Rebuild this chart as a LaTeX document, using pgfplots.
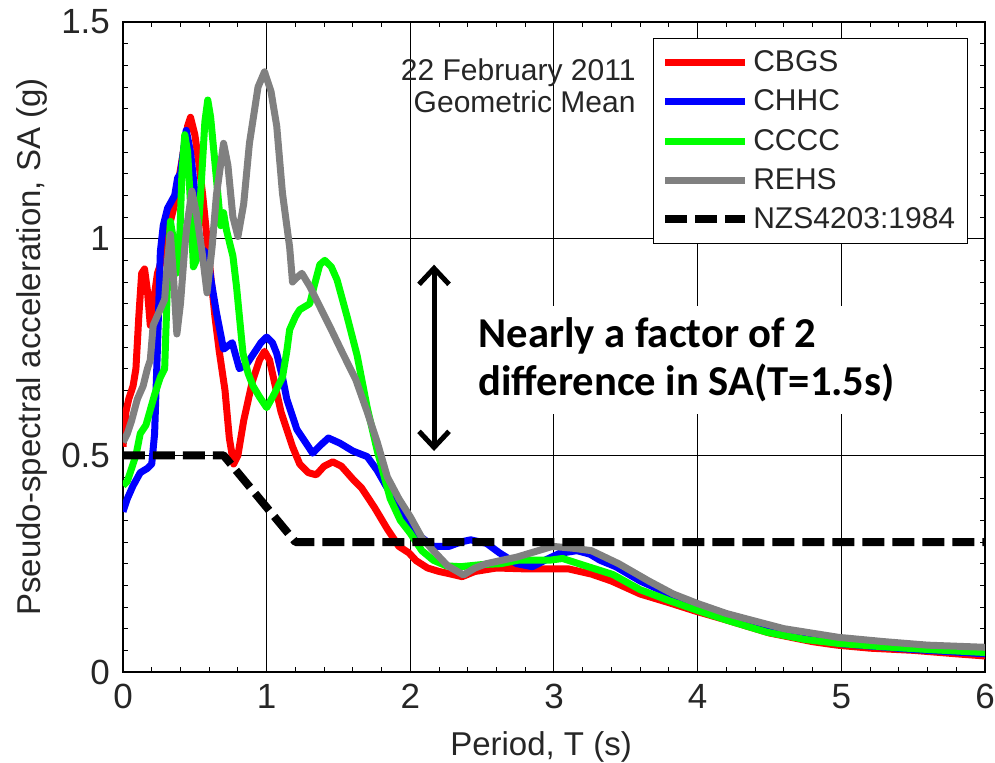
\documentclass[border=0pt]{standalone}
\usepackage{fontspec}
\setmainfont{Liberation Sans}
\newfontfamily\carlito{Carlito}
\usepackage{pgfplots}
\pgfplotsset{compat=1.18}
\usetikzlibrary{arrows.meta}
\definecolor{cred}{RGB}{255,0,0}
\definecolor{cblue}{RGB}{0,0,255}
\definecolor{cgreen}{RGB}{0,255,0}
\definecolor{cgray}{RGB}{128,128,128}
\begin{document}
\begin{tikzpicture}
\begin{axis}[
  scale only axis,
  width=431pt, height=325pt,
  xmin=0, xmax=6, ymin=0, ymax=1.5,
  xtick={0,1,2,3,4,5,6},
  ytick={0,0.5,1,1.5},
  yticklabels={0,0.5,1,1.5},
  minor x tick num=4,
  minor y tick num=9,
  tick align=inside,
  major tick length=4pt,
  minor tick length=2.5pt,
  xtick pos=both, ytick pos=both,
  grid=major,
  major grid style={black, line width=0.5pt},
  axis line style={black, line width=0.8pt},
  every tick/.style={black, line width=0.5pt},
  /pgf/number format/assume math mode=true,
  tick label style={font=\fontsize{17.5}{20}\selectfont, text=black!85},
  xlabel={Period, T (s)},
  ylabel={Pseudo-spectral acceleration, SA (g)},
  xticklabel style={yshift=-2.5pt},
  yticklabel style={xshift=-3pt},
  xlabel style={at={(axis description cs:0.485,0)}, anchor=base, yshift=-41.5pt, font=\fontsize{16.5}{19}\selectfont, text=black!85},
  ylabel style={at={(axis description cs:-0.079,0.5)}, anchor=south, rotate=0, font=\fontsize{16.5}{19}\selectfont, text=black!85},
  legend style={at={(rel axis cs:0.98,0.975)}, anchor=north east, draw=black, line width=0.6pt,
    font=\fontsize{15}{17}\selectfont, nodes={font=\fontsize{15}{17}\selectfont, text=black!85},
    row sep=3.6pt, inner xsep=4pt, inner ysep=4pt},
  legend cell align=left,
  legend image code/.code={\draw[#1] (0pt,0pt) -- (40pt,0pt);},
  every axis plot/.append style={line join=round},
]
\coordinate (bl) at (rel axis cs:0,0);
\coordinate (tr) at (rel axis cs:1,1);
\addplot[cred, line width=3.5pt] coordinates {
(0,0.52) (0.02,0.60) (0.04,0.63) (0.07,0.66) (0.09,0.70) (0.11,0.82) (0.13,0.92) (0.15,0.93) (0.17,0.88) (0.19,0.80) (0.21,0.85) (0.24,0.92) (0.27,0.95) (0.3,1.0) (0.36,1.08) (0.41,1.18) (0.45,1.26) (0.47,1.28) (0.50,1.24) (0.53,1.17) (0.555,1.1) (0.6,0.95) (0.64,0.82) (0.67,0.74) (0.71,0.65) (0.74,0.54) (0.77,0.48) (0.80,0.50) (0.84,0.58) (0.9,0.67) (0.95,0.72) (0.985,0.74) (1.02,0.72) (1.06,0.66) (1.10,0.60) (1.14,0.56) (1.18,0.52) (1.23,0.48) (1.29,0.46) (1.345,0.455) (1.40,0.475) (1.46,0.485) (1.52,0.475) (1.60,0.445) (1.66,0.425) (1.75,0.38) (1.84,0.33) (1.92,0.29) (1.99,0.275) (2.04,0.257) (2.12,0.24) (2.2,0.232) (2.27,0.227) (2.36,0.22) (2.45,0.232) (2.6,0.24) (2.8,0.238) (2.96,0.238) (3.1,0.238) (3.26,0.226) (3.4,0.21) (3.6,0.18) (3.8,0.16) (3.98,0.141) (4.2,0.12) (4.5,0.09) (4.8,0.07) (4.97,0.062) (5.2,0.055) (5.5,0.05) (5.8,0.042) (6.0,0.037)
};
\addlegendentry{CBGS}
\addplot[cblue, line width=3.5pt] coordinates {
(0,0.37) (0.03,0.40) (0.07,0.43) (0.12,0.46) (0.17,0.47) (0.20,0.48) (0.22,0.55) (0.24,0.75) (0.26,0.97) (0.28,1.03) (0.31,1.07) (0.36,1.10) (0.38,1.14) (0.40,1.15) (0.42,1.2) (0.44,1.25) (0.47,1.2) (0.49,1.14) (0.52,1.04) (0.535,0.98) (0.57,0.97) (0.59,0.96) (0.61,0.91) (0.65,0.83) (0.70,0.745) (0.76,0.76) (0.81,0.70) (0.86,0.71) (0.90,0.73) (0.96,0.76) (1.0,0.773) (1.04,0.76) (1.07,0.735) (1.11,0.68) (1.14,0.63) (1.21,0.56) (1.27,0.53) (1.32,0.505) (1.38,0.525) (1.43,0.54) (1.51,0.528) (1.60,0.51) (1.70,0.497) (1.77,0.465) (1.83,0.43) (1.92,0.38) (2.0,0.335) (2.08,0.31) (2.16,0.29) (2.27,0.29) (2.35,0.30) (2.42,0.305) (2.53,0.297) (2.62,0.275) (2.74,0.25) (2.85,0.243) (2.95,0.26) (3.04,0.274) (3.16,0.28) (3.25,0.272) (3.32,0.258) (3.43,0.243) (3.6,0.21) (3.8,0.18) (4.0,0.148) (4.2,0.125) (4.5,0.095) (5.0,0.065) (5.5,0.052) (6.0,0.042)
};
\addlegendentry{CHHC}
\addplot[cgreen, line width=3.5pt] coordinates {
(0,0.43) (0.03,0.44) (0.06,0.47) (0.09,0.50) (0.12,0.55) (0.16,0.57) (0.22,0.64) (0.26,0.68) (0.29,0.70) (0.30,0.80) (0.31,0.9) (0.33,1.04) (0.35,1.0) (0.37,0.92) (0.39,0.95) (0.41,1.15) (0.43,1.24) (0.45,1.2) (0.47,1.08) (0.49,0.935) (0.51,0.95) (0.54,1.1) (0.57,1.27) (0.59,1.32) (0.61,1.28) (0.65,1.14) (0.68,1.03) (0.70,1.06) (0.72,1.02) (0.765,0.96) (0.79,0.89) (0.835,0.736) (0.87,0.69) (0.905,0.66) (0.95,0.635) (1.0,0.61) (1.05,0.64) (1.11,0.68) (1.14,0.74) (1.16,0.79) (1.20,0.82) (1.23,0.836) (1.30,0.85) (1.33,0.89) (1.37,0.94) (1.405,0.95) (1.45,0.935) (1.49,0.905) (1.56,0.82) (1.63,0.73) (1.70,0.61) (1.77,0.51) (1.86,0.40) (1.93,0.35) (2.0,0.32) (2.08,0.28) (2.16,0.258) (2.25,0.245) (2.35,0.243) (2.5,0.248) (2.63,0.25) (2.75,0.258) (2.97,0.258) (3.06,0.262) (3.2,0.247) (3.41,0.225) (3.6,0.19) (3.8,0.165) (4.0,0.142) (4.2,0.12) (4.48,0.092) (4.75,0.075) (4.98,0.066) (5.3,0.058) (5.6,0.052) (6.0,0.045)
};
\addlegendentry{CCCC}
\addplot[cgray, line width=3.5pt] coordinates {
(0,0.53) (0.03,0.55) (0.06,0.58) (0.10,0.63) (0.14,0.66) (0.17,0.70) (0.19,0.72) (0.21,0.80) (0.25,0.83) (0.29,0.86) (0.31,0.95) (0.33,1.01) (0.35,0.92) (0.375,0.78) (0.40,0.85) (0.43,0.98) (0.445,1.03) (0.48,1.11) (0.51,1.06) (0.55,0.97) (0.585,0.875) (0.62,0.98) (0.65,1.1) (0.70,1.22) (0.73,1.17) (0.765,1.05) (0.80,1.005) (0.84,1.08) (0.88,1.22) (0.94,1.35) (0.985,1.385) (1.03,1.34) (1.07,1.26) (1.11,1.105) (1.16,0.98) (1.18,0.90) (1.21,0.91) (1.245,0.92) (1.30,0.89) (1.39,0.83) (1.45,0.79) (1.53,0.735) (1.62,0.675) (1.70,0.60) (1.77,0.53) (1.84,0.45) (1.92,0.40) (2.0,0.358) (2.08,0.31) (2.16,0.28) (2.26,0.245) (2.37,0.224) (2.45,0.24) (2.53,0.25) (2.64,0.258) (2.74,0.265) (2.87,0.278) (2.99,0.29) (3.15,0.285) (3.26,0.28) (3.45,0.25) (3.66,0.21) (3.83,0.18) (4.0,0.158) (4.2,0.135) (4.37,0.12) (4.6,0.1) (4.98,0.08) (5.3,0.07) (5.6,0.062) (6.0,0.057)
};
\addlegendentry{REHS}
\addplot[black, line width=4pt, dash pattern=on 11pt off 4pt] coordinates {
(0,0.5) (0.7,0.5) (1.2,0.3) (6,0.3)
};
\addlegendentry{NZS4203:1984}
\node[anchor=north east, align=right, font=\fontsize{15}{16}\selectfont, text=black!85, inner sep=0pt] at (axis cs:3.57,1.415) {22 February 2011\\Geometric Mean};
\node[anchor=west, align=left, font=\carlito\bfseries\fontsize{21.3}{24}\selectfont, inner xsep=3pt, inner ysep=6pt, fill=white] at (axis cs:2.43,0.72) {Nearly a factor of 2\\difference in SA(T=1.5s)};
\draw[line width=2.5pt, {Straight Barb[length=8pt,width=15pt]}-{Straight Barb[length=8pt,width=15pt]}] (axis cs:2.165,0.94) -- (axis cs:2.165,0.51);
\end{axis}
\pgfresetboundingbox
\path[use as bounding box] ([xshift=-61.5pt,yshift=-45pt]bl) rectangle ([xshift=5pt,yshift=11pt]tr);
\end{tikzpicture}
\end{document}
